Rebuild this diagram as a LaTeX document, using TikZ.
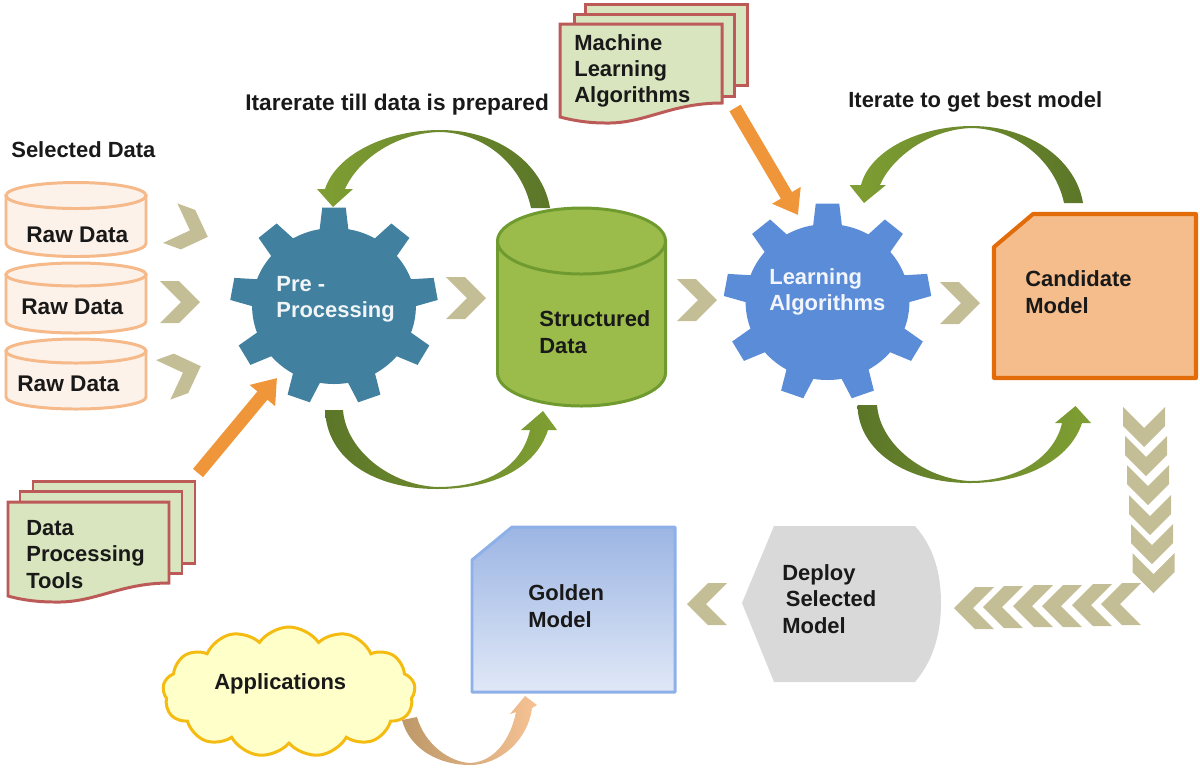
\documentclass[tikz,border=0pt]{standalone}
\usepackage{fontspec}
\setmainfont{Liberation Sans}
\usetikzlibrary{arrows.meta,shapes.symbols}
\definecolor{rawline}{HTML}{F5B98A}
\definecolor{rawfill}{HTML}{FDF2E9}
\definecolor{sheetline}{HTML}{BC5A58}
\definecolor{sheetfill}{HTML}{D8E5BE}
\definecolor{chevronfill}{HTML}{C4BE96}
\definecolor{gearteal}{HTML}{41809F}
\definecolor{gearblue}{HTML}{5B8CD8}
\definecolor{structline}{HTML}{6F9A30}
\definecolor{structfill}{HTML}{9BBB4A}
\definecolor{hopdark}{HTML}{5B7628}
\definecolor{hoplight}{HTML}{7F9F33}
\definecolor{hoptail}{HTML}{BD9868}
\definecolor{hophead}{HTML}{F6C294}
\definecolor{orangearrow}{HTML}{F0963A}
\definecolor{candline}{HTML}{E36C0A}
\definecolor{candfill}{HTML}{F5BD8B}
\definecolor{goldline}{HTML}{8DB0E8}
\definecolor{goldtop}{HTML}{9CB5E3}
\definecolor{goldbottom}{HTML}{E0E8F7}
\definecolor{deployfill}{HTML}{D9D9D9}
\definecolor{cloudline}{HTML}{F4BC12}
\definecolor{cloudfill}{HTML}{FFFFC9}
% style, centre x, top ellipse y, bottom ellipse y, x radius, y radius
\newcommand{\barrel}[6]{%
  \filldraw[#1] (#2-#5,#3) -- (#2-#5,#4)
    arc[start angle=180, end angle=0, x radius=#5, y radius=#6] -- (#2+#5,#3) -- cycle;
  \filldraw[#1] (#2,#3) ellipse [x radius=#5, y radius=#6];
}

\begin{document}
\begin{tikzpicture}[
  x=0.02cm,
  y=-0.02cm,
  every node/.style={font=\bfseries\fontsize{12.5}{15}\selectfont, text=black!90},
  label/.style={anchor=west, inner sep=0pt, align=left},
  widelabel/.style={label, font=\bfseries\fontsize{12.9}{15}\selectfont},
  gearlabel/.style={label, text=white!92!gearteal},
  rawdb/.style={draw=rawline, fill=rawfill, line width=1.7pt},
  structdb/.style={draw=structline, fill=structfill, line width=1.7pt},
  sheet/.style={draw=sheetline, fill=sheetfill, line width=1.7pt},
  chevron/.style={chevronfill},
  pushline/.style={orangearrow, line width=7.4pt,
                   -{Triangle[length=13pt, width=18pt]}},
  hopgreen/.style={left color=hopdark, right color=hoplight},
  hopback/.style={left color=hoplight, right color=hopdark}
]
  \useasboundingbox (0,0) rectangle (1200,769);

  %% ---- raw data ------------------------------------------------------
  \node[label] (selected) at (11,150) {Selected Data};
  \barrel{rawdb}{76}{195.5}{243.5}{70}{13}
  \barrel{rawdb}{76}{274.5}{321.5}{70}{11.5}
  \barrel{rawdb}{76}{351}{397}{70}{12}
  \node[widelabel] (rawonetext) at (26,235) {Raw Data};
  \node[widelabel] (rawtwotext) at (21,307) {Raw Data};
  \node[widelabel] (rawthreetext) at (17,384) {Raw Data};

  %% ---- chevrons ------------------------------------------------------
  \foreach \cx/\cy/\ang in {189/230/-20, 180/302/0, 182/373/20,
                            466/298/0, 697/300/0, 960/303/0,
                            1144/427/-90, 1146/456/-90, 1148/485/-90,
                            1150/515/-90, 1152/544/-90, 1153.5/573/-90,
                            1121/604/180, 1092/605/180, 1062/606/180,
                            1033/606/180, 1003/607/180, 974/608/180,
                            707/604/180}
    \fill[chevron, shift={(\cx,\cy)}, rotate=\ang]
      (-20,-21) -- (-1,-21) -- (20,0) -- (-1,21) -- (-20,21) -- (1,0) -- cycle;

  %% ---- gears ---------------------------------------------------------
  \begin{scope}[shift={(334,306)}, xscale=1.05]
    \fill[gearteal] (0,0) circle (78);
    \foreach \a in {-90,-50,-10,30,70,110,150,190,230}
      \fill[gearteal] (\a-11:74) -- (\a-6.5:99) -- (\a+6.5:99) -- (\a+11:74) -- cycle;
  \end{scope}
  \node[gearlabel] (preproc) at (276,299.5) {Pre -\\Processing};

  \begin{scope}[shift={(827.5,302)}, xscale=1.05]
    \fill[gearblue] (0,0) circle (78);
    \foreach \a in {-90,-50,-10,30,70,110,150,190,230}
      \fill[gearblue] (\a-11:74) -- (\a-6.5:99) -- (\a+6.5:99) -- (\a+11:74) -- cycle;
  \end{scope}
  \node[gearlabel, text=white!92!gearblue] (learning) at (769,292) {Learning\\Algorithms};

  %% ---- structured data -----------------------------------------------
  \barrel{structdb}{581.5}{241}{373}{84}{33}
  \node[label] (structuredtext) at (539,332) {Structured\\Data};

  %% ---- stacks of sheets ----------------------------------------------
  \filldraw[sheet] (585,4) rectangle (747,85);
  \filldraw[sheet] (574,14) rectangle (734,96);
  \filldraw[sheet] (560,24) -- (722,24) -- (722,103)
    .. controls (670,103) and (645,124) .. (605,123) .. controls (590,123) and (575,121) .. (560,117) -- cycle;
  \node[label] (machine) at (574,71) {Machine\\Learning\\Algorithms};

  \filldraw[sheet] (33,481) rectangle (195,563);
  \filldraw[sheet] (20,491) rectangle (182,573);
  \filldraw[sheet] (8,502) -- (169,502) -- (169,583)
    .. controls (120,583) and (95,603) .. (55,602) .. controls (38,602) and (22,600) .. (8,596) -- cycle;
  \node[label] (tools) at (26,554.5) {Data\\Processing\\Tools};

  %% ---- orange arrows -------------------------------------------------
  \coordinate (machineout) at (735,108);
  \coordinate (learningin) at (798,215);
  \coordinate (toolsout) at (198,473);
  \coordinate (preprocin) at (277,378);
  \draw[pushline] (machineout) -- (learningin);
  \draw[pushline] (toolsout) -- (preprocin);

  %% ---- curved arrows -------------------------------------------------
  \node[widelabel] (prepared) at (245,105) {Itarerate till data is prepared};
  \node[label] (bestmodel) at (848,102) {Iterate to get best model};

  \coordinate (structout) at (550,208);
  \coordinate (preprocback) at (333,207);
  \shade[hopback] (structout) .. controls (543,165) and (500,130) .. (440,130)
    .. controls (385,130) and (336,155) .. (325,189) -- (317,189) -- (preprocback)
    -- (353,189) -- (345,189) .. controls (358,160) and (395,133) .. (440,132)
    .. controls (485,133) and (522,165) .. (531,208) -- cycle;

  \coordinate (preprocout) at (325,410);
  \coordinate (structin) at (543,411);
  \shade[hopgreen] (preprocout) .. controls (327,460) and (375,489) .. (437,489)
    .. controls (490,489) and (535,470) .. (548,430) -- (557,430) -- (structin)
    -- (521,430) -- (530,430) .. controls (522,465) and (490,487) .. (437,487)
    .. controls (390,485) and (346,450) .. (343,410) -- cycle;

  \coordinate (candout) at (1083,203);
  \coordinate (learningback) at (864,203);
  \shade[hopback] (candout) .. controls (1076,160) and (1030,126) .. (972,126)
    .. controls (920,126) and (870,150) .. (861,185) -- (849.5,185) -- (learningback)
    -- (886,185) -- (880,185) .. controls (892,157) and (930,129) .. (972,128)
    .. controls (1015,129) and (1055,160) .. (1064,203) -- cycle;

  \coordinate (learningout) at (857.5,405);
  \coordinate (candin) at (1075.5,406);
  \shade[hopgreen] (learningout) .. controls (858,450) and (905,483) .. (970,483)
    .. controls (1025,483) and (1070,460) .. (1082,423) -- (1091,423) -- (candin)
    -- (1055,423) -- (1062,423) .. controls (1055,455) and (1020,481) .. (970,481)
    .. controls (925,479) and (880,445) .. (877,405) -- cycle;

  %% ---- candidate model -----------------------------------------------
  \filldraw[draw=candline, fill=candfill, line width=2.3pt, line join=round]
    (1033,214) -- (1196,214) -- (1196,378) -- (994,378) -- (994,247) -- cycle;
  \node[label] (candidate) at (1025,292) {Candidate\\Model};

  %% ---- deploy --------------------------------------------------------
  \fill[deployfill] (774,526) -- (915,526) .. controls (932,545) and (941,570) .. (941,603)
    .. controls (941,636) and (932,662) .. (915,682) -- (774,682) -- (742,603) -- cycle;
  \node[label] (deploy) at (782,599) {Deploy\\\hspace*{2pt}Selected\\Model};

  %% ---- golden model --------------------------------------------------
  \shade[top color=goldtop, bottom color=goldbottom]
    (512,527) -- (675,527) -- (675,692) -- (472,692) -- (472,560) -- cycle;
  \draw[goldline, line width=1.7pt, line join=round]
    (512,527) -- (675,527) -- (675,692) -- (472,692) -- (472,560) -- cycle;
  \node[label] (golden) at (528,606) {Golden\\Model};

  %% ---- applications --------------------------------------------------
  \node[cloud, cloud puffs=13, cloud puff arc=110, aspect=2, draw=cloudline, fill=cloudfill,
        line width=1.7pt, minimum width=5.05cm, minimum height=2.6cm,
        inner sep=0pt] (applications) at (289,692) {};
  \node[label] (applicationstext) at (214,684) {Applications};

  \coordinate (appsout) at (402,720);
  \coordinate (goldenin) at (525,696);
  \shade[left color=hoptail, right color=hophead] (appsout)
    .. controls (410,750) and (440,765) .. (470,765) .. controls (500,765) and (528,740) .. (532,708)
    -- (537,705) -- (goldenin) -- (510,714) -- (516,712)
    .. controls (511,738) and (495,762) .. (470,763)
    .. controls (450,762) and (425,745) .. (417,717) -- cycle;
\end{tikzpicture}
\end{document}
